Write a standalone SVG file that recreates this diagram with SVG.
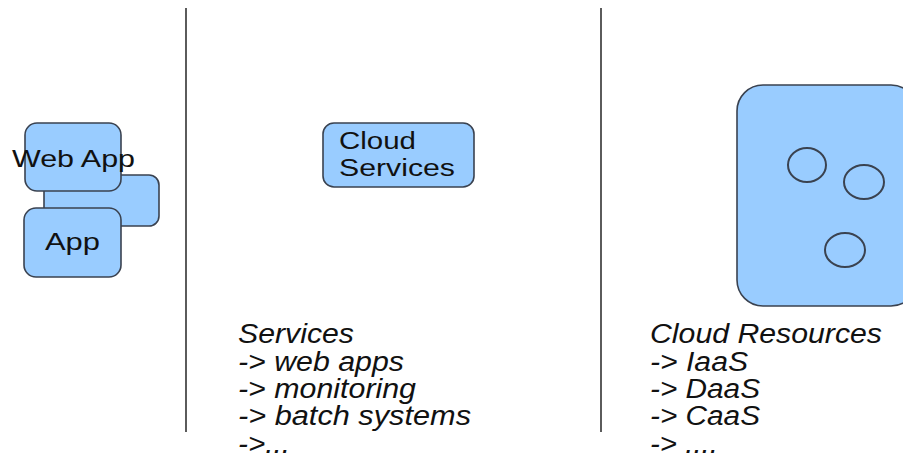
<svg xmlns="http://www.w3.org/2000/svg" width="903" height="457" viewBox="0 0 903 457">
<style>
.box{fill:#99ccff;stroke:#3a4250;stroke-width:1.6}
.res{fill:none;stroke:#3a4250;stroke-width:2}
.lbl{font-family:"Liberation Sans",Arial,sans-serif;fill:#111}
.it{font-family:"Liberation Sans",Arial,sans-serif;font-style:italic;font-size:27px;fill:#111}
.sep{stroke:#333;stroke-width:1.6}
</style>
<rect width="903" height="457" fill="#fff"/>
<g id="separators">
<line class="sep" x1="186" y1="8" x2="186" y2="432"/>
<line class="sep" x1="601" y1="8" x2="601" y2="432"/>
</g>
<g id="app-stack">
<rect class="box" x="44" y="175" width="115" height="51" rx="10"/>
<rect class="box" x="25" y="123" width="96" height="68" rx="12"/>
<rect class="box" x="24" y="208" width="97" height="69" rx="12"/>
<text class="lbl" x="12" y="167" font-size="24" textLength="123" lengthAdjust="spacingAndGlyphs">Web App</text>
<text class="lbl" x="45" y="250" font-size="23" textLength="55" lengthAdjust="spacingAndGlyphs">App</text>
</g>
<g id="cloud-services">
<rect class="box" x="323" y="123" width="151" height="64" rx="11"/>
<text class="lbl" x="339" y="149" font-size="23" textLength="77" lengthAdjust="spacingAndGlyphs">Cloud</text>
<text class="lbl" x="339" y="176" font-size="23" textLength="116" lengthAdjust="spacingAndGlyphs">Services</text>
</g>
<g id="cloud-resources">
<rect class="box" x="737" y="85" width="180" height="221" rx="26"/>
<ellipse class="res" cx="807" cy="165" rx="19" ry="17"/>
<ellipse class="res" cx="864" cy="182" rx="20" ry="17"/>
<ellipse class="res" cx="845" cy="250" rx="20" ry="17"/>
</g>
<g id="services-text">
<text class="it" x="238" y="343" textLength="116" lengthAdjust="spacingAndGlyphs">Services</text>
<text class="it" x="238" y="371" textLength="166" lengthAdjust="spacingAndGlyphs">-&gt; web apps</text>
<text class="it" x="238" y="398" textLength="178" lengthAdjust="spacingAndGlyphs">-&gt; monitoring</text>
<text class="it" x="238" y="425" textLength="233" lengthAdjust="spacingAndGlyphs">-&gt; batch systems</text>
<text class="it" x="238" y="453" textLength="52" lengthAdjust="spacingAndGlyphs">-&gt;...</text>
</g>
<g id="resources-text">
<text class="it" x="650" y="343" textLength="232" lengthAdjust="spacingAndGlyphs">Cloud Resources</text>
<text class="it" x="650" y="371" textLength="98" lengthAdjust="spacingAndGlyphs">-&gt; IaaS</text>
<text class="it" x="650" y="398" textLength="110" lengthAdjust="spacingAndGlyphs">-&gt; DaaS</text>
<text class="it" x="650" y="425" textLength="110" lengthAdjust="spacingAndGlyphs">-&gt; CaaS</text>
<text class="it" x="650" y="453" textLength="68" lengthAdjust="spacingAndGlyphs">-&gt; ....</text>
</g>
</svg>
